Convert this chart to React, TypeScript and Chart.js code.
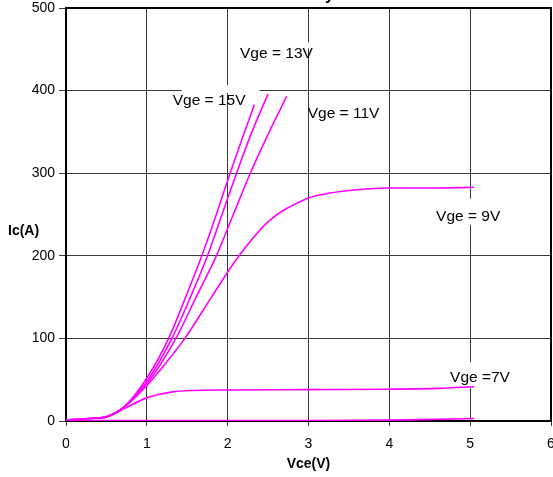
import React, { useEffect, useRef } from "react";
import { Chart, registerables } from "chart.js";

Chart.register(...registerables);

// Vge = 15V
const vce15 = [0, 0.3, 0.5, 0.72, 1.0, 1.27, 1.48, 1.68, 1.86, 2.03, 2.18, 2.33];
const ic15 = [1, 3, 5, 17, 52, 100, 150, 200, 250, 300, 342, 383];
// Vge = 13V
const vce13 = [0, 0.3, 0.5, 0.72, 1.0, 1.31, 1.54, 1.75, 1.93, 2.11, 2.30, 2.50];
const ic13 = [1, 3, 5, 17, 48, 100, 150, 200, 250, 300, 350, 396];
// Vge = 11V
const vce11 = [0, 0.3, 0.5, 0.72, 1.0, 1.36, 1.61, 1.86, 2.07, 2.28, 2.50, 2.73];
const ic11 = [1, 3, 5, 17, 45, 100, 150, 200, 250, 300, 347, 393];
// Vge = 9V
const vce9 = [0, 0.3, 0.5, 0.72, 1.0, 1.25, 1.47, 1.80, 2.14, 2.52, 3.0, 3.27, 3.6, 4.0, 4.5, 5.05];
const ic9 = [1, 3, 5, 17, 43, 72, 100, 150, 200, 243, 270, 276, 280, 282, 282, 283];
// Vge = 7V
const vce7 = [0, 0.3, 0.5, 0.72, 1.0, 1.3, 1.55, 2.0, 3.0, 4.0, 4.6, 5.05];
const ic7 = [1, 3, 5, 15, 28, 35, 37, 37.5, 38, 38.5, 39.5, 41.5];
// lowest curve
const vce5 = [0, 1, 2, 3, 4, 4.6, 5.05];
const ic5 = [0.5, 0.5, 0.5, 0.5, 1, 2, 3];

const xTicks = [0, 1, 2, 3, 4, 5, 6];
const yTicks = [0, 100, 200, 300, 400, 500];

const xTitle = "Vce(V)";
const yTitle = "Ic(A)";
const chartTitle = "Ic vs Vce Family";

// curve labels (text, data x of left edge, data y of baseline)
const labelTexts = ["Vge = 13V", "Vge = 15V", "Vge = 11V", "Vge = 9V", "Vge =7V"];
const labelX = [2.153, 1.32, 2.99, 4.578, 4.751];
const labelY = [439, 382.6, 366.5, 242.5, 46.9];
// white background boxes relative to label anchor [x0, y0, x1, y1] px
const labelBoxes: (number[] | null)[] = [
  [10, -16, 86, -10],
  [9, -20, 87, -12],
  null,
  [-4, -22, 70, 4],
  [-5, -20, 65, 6],
];

const pts = (xs: number[], ys: number[]) => xs.map((x, i) => ({ x, y: ys[i] }));

const FONT = "Arial, 'Liberation Sans', sans-serif";

const annotPlugin = {
  id: "annot",
  beforeDatasetsDraw(chart: any) {
    const ctx = chart.ctx;
    const xs = chart.scales.x;
    const ys = chart.scales.y;
    const a = chart.chartArea;
    ctx.save();
    ctx.fillStyle = "#ffffff";
    labelTexts.forEach((t, i) => {
      const b = labelBoxes[i];
      if (!b) return;
      const px = xs.getPixelForValue(labelX[i]);
      const py = ys.getPixelForValue(labelY[i]);
      ctx.fillRect(px + b[0], py + b[1], b[2] - b[0], b[3] - b[1]);
    });
    ctx.strokeStyle = "#000";
    ctx.lineWidth = 2;
    ctx.strokeRect(a.left, a.top, a.right - a.left, a.bottom - a.top);
    ctx.restore();
  },
  afterDatasetsDraw(chart: any) {
    const ctx = chart.ctx;
    const xs = chart.scales.x;
    const ys = chart.scales.y;
    const a = chart.chartArea;
    ctx.save();
    ctx.fillStyle = "#000";
    ctx.font = `15.5px ${FONT}`;
    ctx.textBaseline = "alphabetic";
    ctx.textAlign = "left";
    labelTexts.forEach((t, i) => {
      ctx.fillText(t, xs.getPixelForValue(labelX[i]), ys.getPixelForValue(labelY[i]));
    });
    ctx.font = `bold 14px ${FONT}`;
    ctx.textAlign = "center";
    ctx.textBaseline = "middle";
    ctx.fillText(xTitle, (a.left + a.right) / 2, 464);
    ctx.textAlign = "left";
    ctx.fillText(yTitle, 8, ys.getPixelForValue(230));
    ctx.font = `bold 16px ${FONT}`;
    ctx.textAlign = "right";
    ctx.textBaseline = "alphabetic";
    ctx.fillText(chartTitle, 334, 0);
    ctx.restore();
  },
};

export default function App() {
  const ref = useRef<HTMLCanvasElement>(null);
  useEffect(() => {
    document.body.style.margin = "0";
    const ds = (xs: number[], ys: number[]) => ({
      data: pts(xs, ys),
      borderColor: "#ff00ff",
      borderWidth: 1.6,
      pointRadius: 0,
      fill: false,
      cubicInterpolationMode: "monotone" as const,
    });
    const chart = new Chart(ref.current!, {
      type: "line",
      data: {
        datasets: [
          ds(vce15, ic15),
          ds(vce13, ic13),
          ds(vce11, ic11),
          ds(vce9, ic9),
          ds(vce7, ic7),
          ds(vce5, ic5),
        ],
      },
      options: {
        animation: false,
        responsive: true,
        maintainAspectRatio: false,
        layout: { padding: { top: 8, right: 2, left: 0, bottom: 0 } },
        plugins: { legend: { display: false }, tooltip: { enabled: false }, title: { display: false } },
        scales: {
          x: {
            type: "linear",
            min: 0,
            max: 6,
            afterBuildTicks: (s: any) => {
              s.ticks = xTicks.map((v) => ({ value: v }));
            },
            afterFit: (s: any) => {
              s.height = 56;
              s.paddingLeft = 0;
              s.paddingRight = 0;
            },
            ticks: { color: "#000", font: { size: 14, family: FONT }, padding: 10, maxRotation: 0, autoSkip: false },
            grid: { color: "#3a3a3a", lineWidth: 1, tickLength: 5 },
            border: { color: "#000", width: 2 },
          },
          y: {
            type: "linear",
            min: 0,
            max: 500,
            afterBuildTicks: (s: any) => {
              s.ticks = yTicks.map((v) => ({ value: v }));
            },
            afterFit: (s: any) => {
              s.width = 66;
              s.paddingTop = 0;
              s.paddingBottom = 0;
            },
            ticks: { color: "#000", font: { size: 14, family: FONT }, padding: 4, autoSkip: false },
            grid: { color: "#3a3a3a", lineWidth: 1, tickLength: 7 },
            border: { color: "#000", width: 2 },
          },
        },
      },
      plugins: [annotPlugin],
    });
    return () => chart.destroy();
  }, []);
  return (
    <div style={{ width: 553, height: 477, position: "relative" }}>
      <canvas ref={ref} />
    </div>
  );
}
